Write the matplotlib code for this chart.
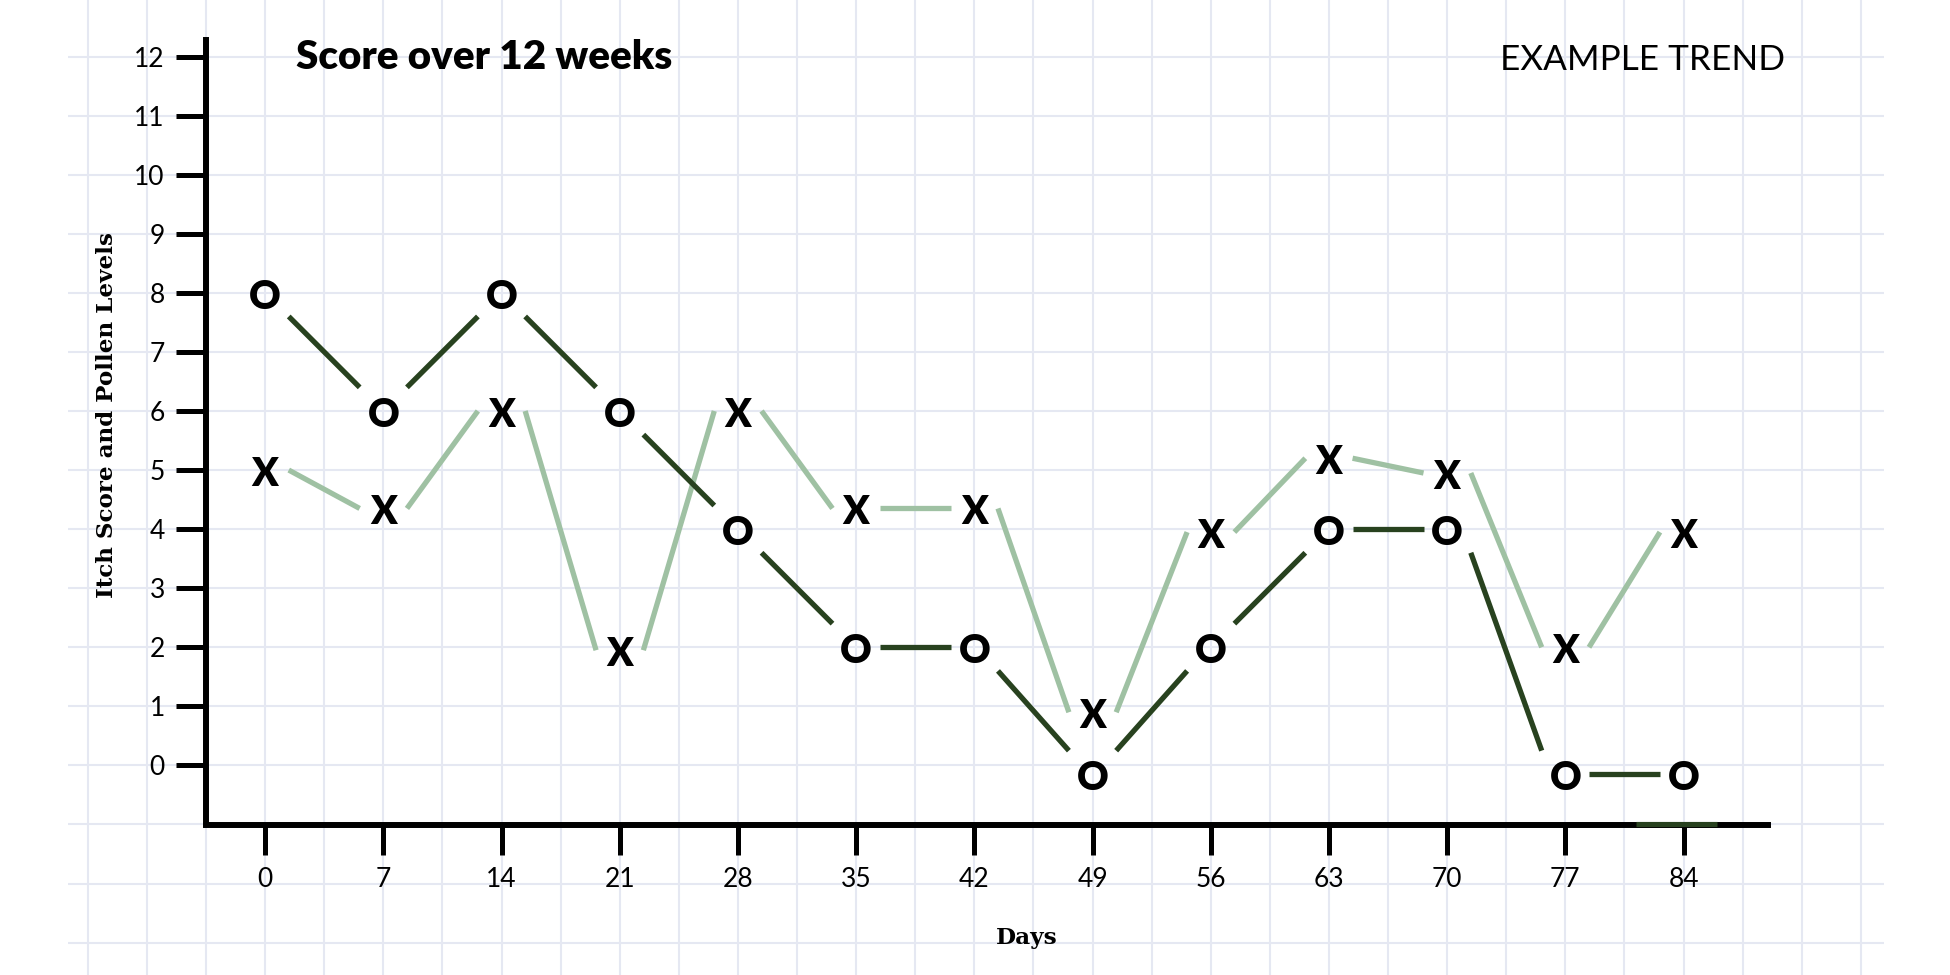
import matplotlib
matplotlib.use("Agg")
import matplotlib.pyplot as plt
import matplotlib.transforms as mtransforms
import numpy as np

# ---------------- data ----------------
days = [0, 7, 14, 21, 28, 35, 42, 49, 56, 63, 70, 77, 84]
itch_score = [8, 6, 8, 6, 4, 2, 2, -0.15, 2, 4, 4, -0.15, -0.15]
pollen_level = [5.0, 4.35, 6.0, 1.95, 6.0, 4.35, 4.35, 0.9, 3.95, 5.2, 4.95, 2.0, 3.95]
y_ticks = list(range(0, 13))
title_text = "Score over 12 weeks"
tag_text = "EXAMPLE TREND"
x_label = "Days"
y_label = "Itch Score and Pollen Levels"

# ---------------- style ----------------
DARK = "#28421f"
LIGHT = "#9fc1a3"
GRID = "#e5e8f2"
plt.rcParams["font.family"] = ["Lato", "DejaVu Sans"]

W, H = 1950, 975
fig = plt.figure(figsize=(W / 100, H / 100), dpi=100)
fig.patch.set_facecolor("white")
ax = fig.add_axes([206 / W, 1 - 824.5 / H, (1768 - 206) / W, (824.5 - 40) / H])
ax.set_xlim(-3.5, 89)
ax.set_ylim(-1, 12.28)
ax.patch.set_alpha(0)

# background paper grid (aligned with data units)
step_x = 3.5
gx = np.arange(-10.5, 94.6, step_x)
gy = np.arange(-3, 14, 1)
ax.vlines(gx, -3.8, 13.2, colors=GRID, linewidth=1.5, clip_on=False, zorder=0)
ax.hlines(gy, -11.66, 95.86, colors=GRID, linewidth=1.5, clip_on=False, zorder=0)

# spines & ticks
for s in ["top", "right"]:
    ax.spines[s].set_visible(False)
for s in ["left", "bottom"]:
    ax.spines[s].set_linewidth(4.3)
    ax.spines[s].set_color("black")
    ax.spines[s].set_capstyle("projecting")
ax.set_xticks(days)
ax.set_xticklabels([str(d) for d in days])
ax.set_yticks(y_ticks)
ax.set_yticklabels([str(v) for v in y_ticks])
ax.tick_params(axis="both", direction="out", length=21.6, width=3.6, color="black",
               labelsize=19, labelcolor="black")
ax.tick_params(axis="y", pad=8)
ax.tick_params(axis="x", pad=9)

# connecting segments with gaps near markers
gap_x = 0.2 * 7
gap_y = 0.4

def draw_segments(xs, ys, color, slope_gap):
    for i in range(len(xs) - 1):
        x0, x1 = xs[i], xs[i + 1]
        y0, y1 = ys[i], ys[i + 1]
        if slope_gap:
            sgn = np.sign(y1 - y0)
            ya, yb = y0 + gap_y * sgn, y1 - gap_y * sgn
        else:
            ya, yb = y0, y1
        ax.plot([x0 + gap_x, x1 - gap_x], [ya, yb], color=color, linewidth=3.8,
                solid_capstyle="butt", zorder=3, clip_on=False)

draw_segments(days, pollen_level, LIGHT, False)
draw_segments(days, itch_score, DARK, True)

# marker glyphs
fs_mark = 28
cap = 0.7165 * fs_mark
trans_mark = mtransforms.offset_copy(ax.transData, fig=fig, x=0, y=-cap / 2 - 1.5, units="points")
for x, y in zip(days, pollen_level):
    ax.text(x, y, "X", transform=trans_mark, ha="center", va="baseline",
            fontsize=fs_mark, fontweight="heavy", color="black", zorder=5, clip_on=False)
for x, y in zip(days, itch_score):
    ax.text(x, y, "O", transform=trans_mark, ha="center", va="baseline",
            fontsize=fs_mark, fontweight="heavy", color="black", zorder=5, clip_on=False)

# small dark segment on the x axis under the last day
ax.plot([days[-1] - 2.8, days[-1] + 2.0], [-1, -1], color=DARK, linewidth=3.7,
        solid_capstyle="butt", zorder=6, clip_on=False)

# titles and labels
fig.text(296 / W, 1 - 69 / H, title_text, ha="left", va="baseline",
         fontsize=29, fontweight="heavy", color="black")
fig.text(1785 / W, 1 - 69.5 / H, tag_text, ha="right", va="baseline",
         fontsize=25.3, fontweight="normal", color="black")
fig.text(1027 / W, 1 - 944 / H, x_label, ha="center", va="baseline",
         fontsize=16.7, fontweight="bold", family=["DejaVu Serif"], color="black")
fig.text(107 / W, 1 - 414.8 / H, y_label, ha="center", va="center", rotation=90,
         fontsize=16.6, fontweight="bold", family=["DejaVu Serif"], color="black")

fig.savefig("out.png", dpi=100, facecolor="white")
